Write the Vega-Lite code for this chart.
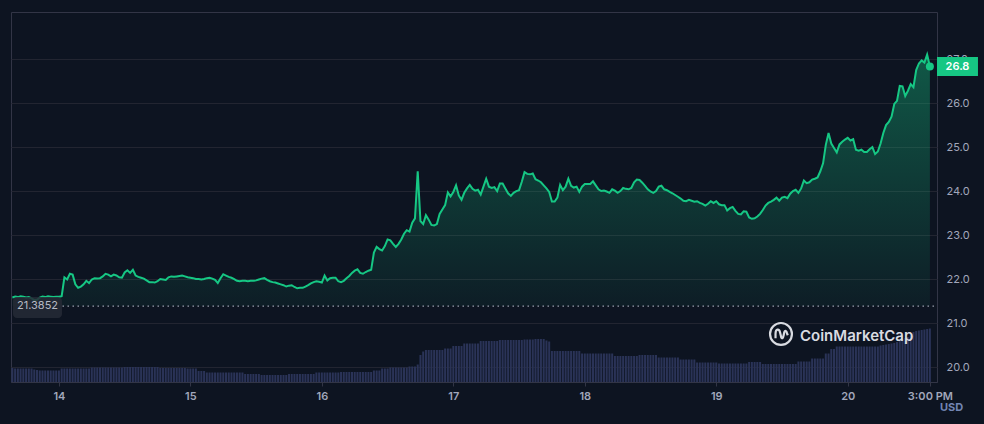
{
"$schema":"https://vega.github.io/schema/vega-lite/v6.json",
"width":926,"height":370,
"autosize":{"type":"none"},
"padding":{"left":11,"top":12,"right":47,"bottom":42},
"background":"#0d1421",
"config":{"view":{"stroke":"#323546","strokeWidth":1},"font":"Inter","axis":{"labelFont":"Inter","titleFont":"Inter"}},
"data":{"values":[
{"h":-8.5,"p":21.58,"v":28},{"h":-8,"p":21.60,"v":27},{"h":-7.5,"p":21.59,"v":27},{"h":-7,"p":21.61,"v":27},{"h":-6.5,"p":21.60,"v":27},{"h":-6,"p":21.58,"v":27},{"h":-5.5,"p":21.59,"v":27},{"h":-5,"p":21.56,"v":27},{"h":-4.5,"p":21.52,"v":25},{"h":-4,"p":21.53,"v":24},{"h":-3.5,"p":21.58,"v":23},{"h":-3,"p":21.60,"v":23},{"h":-2.5,"p":21.59,"v":23},{"h":-2,"p":21.61,"v":23},{"h":-1.5,"p":21.60,"v":23},{"h":-1,"p":21.59,"v":23},{"h":-0.5,"p":21.60,"v":23},
{"h":0,"p":21.60,"v":23},{"h":0.5,"p":21.61,"v":27},{"h":1,"p":22.04,"v":27},{"h":1.5,"p":21.99,"v":27},{"h":2,"p":22.12,"v":27},{"h":2.5,"p":22.10,"v":27},{"h":3,"p":21.88,"v":27},{"h":3.5,"p":21.80,"v":27},{"h":4,"p":21.83,"v":27},{"h":4.5,"p":21.88,"v":27},{"h":5,"p":21.96,"v":27},{"h":5.5,"p":21.91,"v":27},{"h":6,"p":21.99,"v":29},{"h":6.5,"p":22.02,"v":29},{"h":7,"p":22.01,"v":29},{"h":7.5,"p":22.02,"v":29},{"h":8,"p":22.06,"v":29},{"h":8.5,"p":22.12,"v":29},{"h":9,"p":22.10,"v":29},{"h":9.5,"p":22.06,"v":29},{"h":10,"p":22.10,"v":29},{"h":10.5,"p":22.08,"v":29},{"h":11,"p":22.04,"v":29},{"h":11.5,"p":22.03,"v":29},
{"h":12,"p":22.15,"v":30},{"h":12.5,"p":22.20,"v":30},{"h":13,"p":22.14,"v":30},{"h":13.5,"p":22.21,"v":30},{"h":14,"p":22.08,"v":30},{"h":14.5,"p":22.05,"v":30},{"h":15,"p":22.03,"v":30},{"h":15.5,"p":22.01,"v":30},{"h":16,"p":21.97,"v":30},{"h":16.5,"p":21.93,"v":30},{"h":17,"p":21.93,"v":30},{"h":17.5,"p":21.92,"v":30},{"h":18,"p":21.95,"v":30},{"h":18.5,"p":22.00,"v":28},{"h":19,"p":21.99,"v":28},{"h":19.5,"p":21.98,"v":28},{"h":20,"p":22.04,"v":28},{"h":20.5,"p":22.06,"v":28},{"h":21,"p":22.05,"v":28},{"h":21.5,"p":22.06,"v":28},{"h":22,"p":22.07,"v":28},{"h":22.5,"p":22.08,"v":28},{"h":23,"p":22.06,"v":28},{"h":23.5,"p":22.04,"v":27},
{"h":24,"p":22.03,"v":27},{"h":24.5,"p":22.02,"v":27},{"h":25,"p":22.00,"v":27},{"h":25.5,"p":22.00,"v":22},{"h":26,"p":21.99,"v":22},{"h":26.5,"p":22.00,"v":22},{"h":27,"p":22.02,"v":19},{"h":27.5,"p":22.03,"v":19},{"h":28,"p":22.01,"v":19},{"h":28.5,"p":21.98,"v":19},{"h":29,"p":21.91,"v":19},{"h":29.5,"p":22.02,"v":19},{"h":30,"p":22.11,"v":19},{"h":30.5,"p":22.08,"v":19},{"h":31,"p":22.05,"v":19},{"h":31.5,"p":22.03,"v":19},{"h":32,"p":22.00,"v":19},{"h":32.5,"p":21.96,"v":19},{"h":33,"p":21.95,"v":19},{"h":33.5,"p":21.96,"v":19},{"h":34,"p":21.96,"v":16},{"h":34.5,"p":21.95,"v":16},{"h":35,"p":21.96,"v":16},{"h":35.5,"p":21.96,"v":16},
{"h":36,"p":21.97,"v":16},{"h":36.5,"p":21.99,"v":16},{"h":37,"p":22.01,"v":14},{"h":37.5,"p":22.02,"v":14},{"h":38,"p":21.98,"v":14},{"h":38.5,"p":21.95,"v":14},{"h":39,"p":21.93,"v":14},{"h":39.5,"p":21.92,"v":14},{"h":40,"p":21.90,"v":14},{"h":40.5,"p":21.88,"v":14},{"h":41,"p":21.86,"v":14},{"h":41.5,"p":21.83,"v":14},{"h":42,"p":21.85,"v":16},{"h":42.5,"p":21.86,"v":16},{"h":43,"p":21.82,"v":16},{"h":43.5,"p":21.79,"v":16},{"h":44,"p":21.80,"v":16},{"h":44.5,"p":21.80,"v":16},{"h":45,"p":21.83,"v":16},{"h":45.5,"p":21.86,"v":16},{"h":46,"p":21.90,"v":16},{"h":46.5,"p":21.93,"v":16},{"h":47,"p":21.95,"v":19},{"h":47.5,"p":21.94,"v":19},
{"h":48,"p":21.92,"v":19},{"h":48.5,"p":22.08,"v":19},{"h":49,"p":21.97,"v":19},{"h":49.5,"p":22.02,"v":19},{"h":50,"p":22.03,"v":19},{"h":50.5,"p":22.03,"v":19},{"h":51,"p":21.95,"v":19},{"h":51.5,"p":21.93,"v":20},{"h":52,"p":21.96,"v":20},{"h":52.5,"p":22.02,"v":20},{"h":53,"p":22.07,"v":20},{"h":53.5,"p":22.14,"v":20},{"h":54,"p":22.19,"v":20},{"h":54.5,"p":22.22,"v":20},{"h":55,"p":22.14,"v":20},{"h":55.5,"p":22.12,"v":20},{"h":56,"p":22.16,"v":20},{"h":56.5,"p":22.19,"v":20},{"h":57,"p":22.21,"v":20},{"h":57.5,"p":22.60,"v":23},{"h":58,"p":22.73,"v":23},{"h":58.5,"p":22.68,"v":23},{"h":59,"p":22.65,"v":27},{"h":59.5,"p":22.75,"v":27},
{"h":60,"p":22.90,"v":27},{"h":60.5,"p":22.88,"v":29},{"h":61,"p":22.80,"v":29},{"h":61.5,"p":22.73,"v":29},{"h":62,"p":22.80,"v":29},{"h":62.5,"p":22.90,"v":29},{"h":63,"p":23.03,"v":29},{"h":63.5,"p":23.11,"v":29},{"h":64,"p":23.08,"v":31},{"h":64.5,"p":23.28,"v":31},{"h":65,"p":23.38,"v":31},{"h":65.5,"p":24.45,"v":35},{"h":66,"p":23.32,"v":54},{"h":66.5,"p":23.25,"v":61},{"h":67,"p":23.45,"v":64},{"h":67.5,"p":23.35,"v":64},{"h":68,"p":23.23,"v":64},{"h":68.5,"p":23.22,"v":64},{"h":69,"p":23.25,"v":64},{"h":69.5,"p":23.48,"v":64},{"h":70,"p":23.58,"v":64},{"h":70.5,"p":23.68,"v":67},{"h":71,"p":23.97,"v":67},{"h":71.5,"p":23.88,"v":67},
{"h":72,"p":23.98,"v":72},{"h":72.5,"p":24.13,"v":72},{"h":73,"p":23.90,"v":72},{"h":73.5,"p":23.80,"v":72},{"h":74,"p":23.96,"v":77},{"h":74.5,"p":24.06,"v":77},{"h":75,"p":24.14,"v":77},{"h":75.5,"p":24.05,"v":77},{"h":76,"p":24.01,"v":77},{"h":76.5,"p":24.03,"v":77},{"h":77,"p":23.92,"v":82},{"h":77.5,"p":24.10,"v":82},{"h":78,"p":24.28,"v":82},{"h":78.5,"p":24.10,"v":82},{"h":79,"p":24.07,"v":82},{"h":79.5,"p":24.09,"v":82},{"h":80,"p":24.00,"v":82},{"h":80.5,"p":24.17,"v":84},{"h":81,"p":24.17,"v":84},{"h":81.5,"p":24.06,"v":84},{"h":82,"p":23.95,"v":84},{"h":82.5,"p":23.89,"v":84},{"h":83,"p":23.96,"v":84},{"h":83.5,"p":24.00,"v":84},
{"h":84,"p":24.02,"v":84},{"h":84.5,"p":24.21,"v":84},{"h":85,"p":24.43,"v":85},{"h":85.5,"p":24.39,"v":85},{"h":86,"p":24.38,"v":85},{"h":86.5,"p":24.40,"v":85},{"h":87,"p":24.27,"v":86},{"h":87.5,"p":24.24,"v":86},{"h":88,"p":24.20,"v":86},{"h":88.5,"p":24.13,"v":86},{"h":89,"p":24.06,"v":83},{"h":89.5,"p":23.98,"v":81},{"h":90,"p":23.76,"v":62},{"h":90.5,"p":23.76,"v":62},{"h":91,"p":23.85,"v":62},{"h":91.5,"p":24.14,"v":62},{"h":92,"p":24.02,"v":62},{"h":92.5,"p":24.10,"v":62},{"h":93,"p":24.28,"v":62},{"h":93.5,"p":24.12,"v":62},{"h":94,"p":24.08,"v":62},{"h":94.5,"p":24.10,"v":62},{"h":95,"p":23.98,"v":62},{"h":95.5,"p":24.10,"v":57},
{"h":96,"p":24.16,"v":57},{"h":96.5,"p":24.16,"v":57},{"h":97,"p":24.16,"v":57},{"h":97.5,"p":24.22,"v":57},{"h":98,"p":24.13,"v":57},{"h":98.5,"p":24.04,"v":57},{"h":99,"p":24.00,"v":57},{"h":99.5,"p":24.01,"v":57},{"h":100,"p":23.99,"v":57},{"h":100.5,"p":23.96,"v":57},{"h":101,"p":24.04,"v":57},{"h":101.5,"p":24.01,"v":52},{"h":102,"p":23.96,"v":52},{"h":102.5,"p":24.00,"v":52},{"h":103,"p":24.07,"v":52},{"h":103.5,"p":24.05,"v":52},{"h":104,"p":24.04,"v":52},{"h":104.5,"p":24.07,"v":52},{"h":105,"p":24.20,"v":52},{"h":105.5,"p":24.26,"v":52},{"h":106,"p":24.25,"v":54},{"h":106.5,"p":24.19,"v":54},{"h":107,"p":24.12,"v":54},{"h":107.5,"p":24.04,"v":54},
{"h":108,"p":23.99,"v":54},{"h":108.5,"p":23.96,"v":54},{"h":109,"p":24.00,"v":54},{"h":109.5,"p":24.10,"v":49},{"h":110,"p":24.12,"v":49},{"h":110.5,"p":24.04,"v":49},{"h":111,"p":24.02,"v":49},{"h":111.5,"p":23.98,"v":49},{"h":112,"p":23.95,"v":49},{"h":112.5,"p":23.91,"v":49},{"h":113,"p":23.87,"v":49},{"h":113.5,"p":23.83,"v":45},{"h":114,"p":23.78,"v":45},{"h":114.5,"p":23.77,"v":45},{"h":115,"p":23.80,"v":45},{"h":115.5,"p":23.78,"v":45},{"h":116,"p":23.76,"v":45},{"h":116.5,"p":23.77,"v":39},{"h":117,"p":23.73,"v":39},{"h":117.5,"p":23.71,"v":39},{"h":118,"p":23.67,"v":39},{"h":118.5,"p":23.71,"v":39},{"h":119,"p":23.77,"v":39},{"h":119.5,"p":23.73,"v":39},
{"h":120,"p":23.77,"v":39},{"h":120.5,"p":23.70,"v":37},{"h":121,"p":23.68,"v":37},{"h":121.5,"p":23.68,"v":37},{"h":122,"p":23.56,"v":37},{"h":122.5,"p":23.61,"v":37},{"h":123,"p":23.64,"v":37},{"h":123.5,"p":23.55,"v":37},{"h":124,"p":23.48,"v":37},{"h":124.5,"p":23.47,"v":37},{"h":125,"p":23.54,"v":37},{"h":125.5,"p":23.53,"v":37},{"h":126,"p":23.40,"v":40},{"h":126.5,"p":23.37,"v":40},{"h":127,"p":23.38,"v":40},{"h":127.5,"p":23.42,"v":40},{"h":128,"p":23.48,"v":40},{"h":128.5,"p":23.57,"v":36},{"h":129,"p":23.67,"v":36},{"h":129.5,"p":23.73,"v":36},{"h":130,"p":23.76,"v":36},{"h":130.5,"p":23.80,"v":36},{"h":131,"p":23.85,"v":36},{"h":131.5,"p":23.78,"v":36},
{"h":132,"p":23.85,"v":36},{"h":132.5,"p":23.87,"v":36},{"h":133,"p":23.84,"v":36},{"h":133.5,"p":23.94,"v":36},{"h":134,"p":24.00,"v":36},{"h":134.5,"p":24.03,"v":36},{"h":135,"p":23.96,"v":41},{"h":135.5,"p":24.06,"v":41},{"h":136,"p":24.24,"v":41},{"h":136.5,"p":24.18,"v":41},{"h":137,"p":24.20,"v":41},{"h":137.5,"p":24.26,"v":47},{"h":138,"p":24.28,"v":47},{"h":138.5,"p":24.31,"v":47},{"h":139,"p":24.45,"v":47},{"h":139.5,"p":24.63,"v":47},{"h":140,"p":25.05,"v":57},{"h":140.5,"p":25.32,"v":57},{"h":141,"p":25.08,"v":66},{"h":141.5,"p":24.98,"v":66},{"h":142,"p":24.88,"v":71},{"h":142.5,"p":25.06,"v":71},{"h":143,"p":25.12,"v":71},{"h":143.5,"p":25.17,"v":71},
{"h":144,"p":25.21,"v":71},{"h":144.5,"p":25.15,"v":71},{"h":145,"p":25.18,"v":71},{"h":145.5,"p":24.94,"v":71},{"h":146,"p":24.92,"v":71},{"h":146.5,"p":24.94,"v":71},{"h":147,"p":24.89,"v":71},{"h":147.5,"p":24.89,"v":71},{"h":148,"p":24.95,"v":71},{"h":148.5,"p":25.00,"v":71},{"h":149,"p":24.84,"v":71},{"h":149.5,"p":24.90,"v":71},{"h":150,"p":25.08,"v":73},{"h":150.5,"p":25.32,"v":74},{"h":151,"p":25.50,"v":75},{"h":151.5,"p":25.57,"v":76},{"h":152,"p":25.69,"v":77},{"h":152.5,"p":25.98,"v":78},{"h":153,"p":26.05,"v":80},{"h":153.5,"p":26.39,"v":83},{"h":154,"p":26.38,"v":86},{"h":154.5,"p":26.16,"v":88},{"h":155,"p":26.28,"v":90},{"h":155.5,"p":26.43,"v":93},
{"h":156,"p":26.36,"v":100},{"h":156.5,"p":26.75,"v":102},{"h":157,"p":26.90,"v":103},{"h":157.5,"p":26.97,"v":104},{"h":158,"p":26.92,"v":105},{"h":158.5,"p":27.10,"v":106},{"h":159,"p":26.83,"v":107}
]},
"layer":[
 {"mark":{"type":"bar","width":2,"color":"#2a3357"},
  "encoding":{
   "x":{"field":"h","type":"quantitative","scale":{"domain":[-8.75,160.3],"nice":false,"zero":false,"padding":0},
    "axis":{"values":[0,24,48,72,96,120,144,159],"labelExpr":"datum.value == 159 ? '3:00 PM' : format(14 + datum.value / 24, 'd')","grid":false,"domainColor":"#323546","tickColor":"#323546","tickSize":4,"labelColor":"#a1a7bb","labelFontSize":11,"labelFontWeight":600,"labelPadding":4,"labelFlush":false,"labelOverlap":false,
    "title":"USD","titleX":940,"titleY":25,"titleAlign":"center","titleBaseline":"middle","titleColor":"#7285b3","titleFontSize":11,"titleFontWeight":700}},
   "y":{"field":"v","type":"quantitative","scale":{"domain":[0,740]},"axis":null}}},
 {"layer":[
   {"mark":{"type":"area","color":{"gradient":"linear","x1":1,"y1":1,"x2":1,"y2":0,"stops":[{"offset":0,"color":"rgba(22,199,132,0.05)"},{"offset":1,"color":"rgba(22,199,132,0.38)"}]}},
    "encoding":{"x":{"field":"h","type":"quantitative"},"y":{"field":"p","type":"quantitative","scale":{"domain":[19.66,28.07],"nice":false,"zero":false},
     "axis":{"orient":"right","values":[20,21,22,23,24,25,26,27],"format":".1f","grid":true,"gridColor":"#222531","ticks":false,"domain":false,"labelColor":"#a1a7bb","labelFontSize":11,"labelPadding":9,"title":null,"zindex":0}},"y2":{"datum":21.3852}}},
   {"mark":{"type":"line","color":"#16c784","strokeWidth":2},
    "encoding":{"x":{"field":"h","type":"quantitative"},"y":{"field":"p","type":"quantitative"}}},
   {"transform":[{"filter":"datum.h == 159"}],
    "mark":{"type":"rule","color":"#9aa0ae","strokeDash":[1.5,3.5],"strokeWidth":1.2},
    "encoding":{"x":{"datum":0.65,"type":"quantitative"},"x2":{"datum":160.3},"y":{"datum":21.3852,"type":"quantitative"}}},
   {"transform":[{"filter":"datum.h == 159"}],
    "mark":{"type":"rect","color":"#262a36","opacity":0.85,"cornerRadius":4},
    "encoding":{"x":{"datum":-8.39,"type":"quantitative"},"x2":{"datum":0.56},"y":{"datum":21.593,"type":"quantitative"},"y2":{"datum":21.115}}},
   {"transform":[{"filter":"datum.h == 159"}],
    "mark":{"type":"text","color":"#b6bac4","fontSize":11,"align":"center","baseline":"middle"},
    "encoding":{"x":{"datum":-3.91,"type":"quantitative"},"y":{"datum":21.3852,"type":"quantitative"},"text":{"value":"21.3852"}}},
   {"transform":[{"filter":"datum.h == 159"}],
    "mark":{"type":"point","filled":true,"color":"#16c784","size":64,"opacity":1},
    "encoding":{"x":{"field":"h","type":"quantitative"},"y":{"field":"p","type":"quantitative"}}},
   {"transform":[{"filter":"datum.h == 159"}],
    "mark":{"type":"rect","color":"#16c784"},
    "encoding":{"x":{"datum":160.3,"type":"quantitative"},"x2":{"datum":167.78},"y":{"datum":27.047,"type":"quantitative"},"y2":{"datum":26.615}}},
   {"transform":[{"filter":"datum.h == 159"}],
    "mark":{"type":"text","color":"#ffffff","fontSize":11,"fontWeight":600,"align":"center","baseline":"middle"},
    "encoding":{"x":{"datum":164.04,"type":"quantitative"},"y":{"datum":26.83,"type":"quantitative"},"text":{"field":"p","type":"quantitative","format":".1f"}}},
   {"transform":[{"filter":"datum.h == 159"}],
    "mark":{"type":"point","shape":"circle","filled":false,"color":"#d9dbe1","size":480,"strokeWidth":2.2,"opacity":1},
    "encoding":{"x":{"datum":131.82,"type":"quantitative"},"y":{"datum":20.752,"type":"quantitative"}}},
   {"transform":[{"filter":"datum.h == 159"}],
    "mark":{"type":"point","shape":"M-0.5,0.4L-0.5,0C-0.5,-0.5,-0.15,-0.5,-0.08,-0.1L0.02,0.3C0.08,0.45,0.2,0.4,0.22,0.2L0.3,-0.15C0.36,-0.38,0.52,-0.3,0.55,-0.05L0.62,0.12","filled":false,"color":"#d9dbe1","size":480,"strokeWidth":2.2,"opacity":1},
    "encoding":{"x":{"datum":131.82,"type":"quantitative"},"y":{"datum":20.752,"type":"quantitative"}}},
   {"transform":[{"filter":"datum.h == 159"}],
    "mark":{"type":"text","color":"#d9dbe1","fontSize":15,"fontWeight":600,"align":"left","baseline":"middle"},
    "encoding":{"x":{"datum":135.29,"type":"quantitative"},"y":{"datum":20.695,"type":"quantitative"},"text":{"value":"CoinMarketCap"}}}
  ]}
],
"resolve":{"scale":{"y":"independent"}}
}
